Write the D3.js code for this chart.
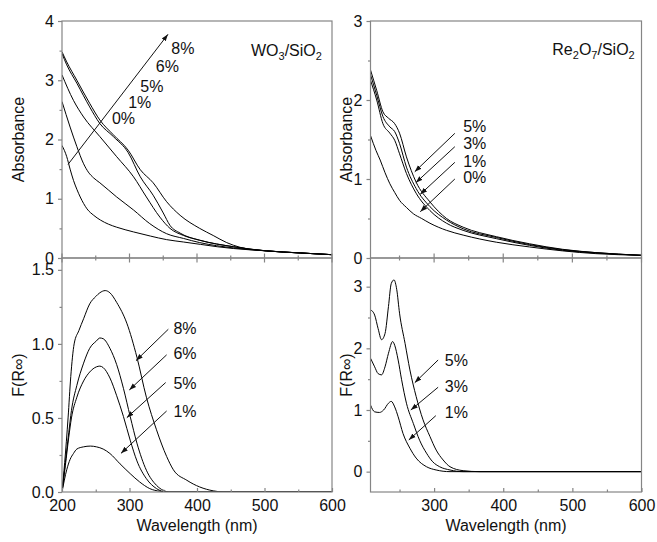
<!DOCTYPE html>
<html>
<head>
<meta charset="utf-8">
<script src="https://cdn.jsdelivr.net/npm/d3@7"></script>
<style>
  body { margin: 0; background: #fff; }
  text { font-family: "Liberation Sans", Arial, sans-serif; }
</style>
</head>
<body>
<div id="chart"></div>
<script>
// ---- tick values ----
const leftXTicks = [200, 300, 400, 500, 600];
const rightXTicks = [300, 400, 500, 600];
const xMinorTicks = [250, 350, 450, 550];
const woAbsTicks = [0, 1, 2, 3, 4];
const woAbsMinor = [0.5, 1.5, 2.5, 3.5];
const reAbsTicks = [0, 1, 2, 3];
const reAbsMinor = [0.5, 1.5, 2.5];
const woFrTicks = [0.0, 0.5, 1.0, 1.5];
const woFrMinor = [0.25, 0.75, 1.25];
const reFrTicks = [0, 1, 2, 3];
const reFrMinor = [0.5, 1.5, 2.5];

// ---- WO3/SiO2 absorbance [nm, A] ----
const woAbsLoadings = ["0%", "1%", "5%", "6%", "8%"];
const woAbs0 = [[200,1.90],[207,1.71],[212,1.50],[217,1.31],[222,1.16],[227,1.03],[232,0.92],[237,0.83],[247,0.72],[257,0.64],[269,0.57],[281,0.52],[306,0.44],[331,0.37],[355,0.31],[380,0.27],[405,0.23],[430,0.19],[454,0.16],[503,0.12],[553,0.085],[600,0.056]];
const woAbs1 = [[200,2.64],[212,2.21],[222,1.88],[232,1.59],[239,1.45],[247,1.35],[256,1.27],[281,1.03],[306,0.81],[330,0.58],[355,0.41],[380,0.33],[404,0.26],[454,0.17],[503,0.12],[553,0.085],[600,0.056]];
const woAbs5 = [[200,3.09],[217,2.66],[232,2.38],[256,2.05],[281,1.71],[306,1.37],[325,1.03],[345,0.69],[360,0.50],[380,0.38],[404,0.30],[454,0.19],[503,0.12],[553,0.085],[600,0.056]];
const woAbs6 = [[200,3.45],[207,3.26],[222,2.95],[241,2.55],[256,2.27],[276,2.05],[298,1.78],[316,1.37],[335,1.06],[350,0.76],[360,0.55],[375,0.42],[404,0.30],[454,0.19],[503,0.12],[553,0.085],[600,0.056]];
const woAbs8 = [[200,3.48],[207,3.31],[222,3.00],[241,2.61],[256,2.33],[276,2.08],[298,1.82],[316,1.49],[335,1.27],[355,0.95],[375,0.72],[404,0.50],[424,0.38],[444,0.26],[464,0.18],[503,0.12],[553,0.085],[600,0.056]];

// ---- Re2O7/SiO2 absorbance ----
const reAbsLoadings = ["0%", "1%", "3%", "5%"];
const reAbs0 = [[208,1.55],[216,1.36],[222,1.24],[229,1.08],[236,0.94],[243,0.83],[250,0.73],[260,0.64],[270,0.56],[282,0.50],[294,0.44],[318,0.35],[342,0.29],[390,0.20],[438,0.14],[486,0.09],[534,0.055],[600,0.034]];
const reAbs1 = [[208,2.25],[217,2.00],[226,1.70],[236,1.58],[243,1.49],[250,1.32],[260,1.07],[274,0.82],[294,0.60],[318,0.44],[342,0.35],[390,0.245],[438,0.16],[486,0.097],[534,0.063],[600,0.034]];
const reAbs3 = [[208,2.32],[217,2.06],[226,1.79],[236,1.66],[243,1.60],[250,1.45],[260,1.15],[274,0.88],[294,0.65],[318,0.48],[342,0.37],[390,0.26],[438,0.17],[486,0.105],[534,0.068],[600,0.034]];
const reAbs5 = [[208,2.38],[217,2.12],[226,1.85],[234,1.77],[243,1.70],[250,1.58],[260,1.28],[274,0.96],[294,0.71],[318,0.50],[342,0.39],[390,0.27],[438,0.18],[486,0.11],[534,0.068],[600,0.034]];

// ---- WO3/SiO2 F(R) ----
const woFrLoadings = ["1%", "5%", "6%", "8%"];
const woFr1 = [[200,0],[207,0.15],[212,0.22],[217,0.26],[222,0.29],[232,0.305],[242,0.31],[251,0.305],[261,0.29],[271,0.26],[286,0.19],[301,0.124],[315,0.068],[330,0.023],[345,0.005],[360,0],[600,0]];
const woFr5 = [[200,0],[205,0.18],[210,0.37],[214,0.50],[222,0.64],[232,0.75],[241,0.81],[251,0.845],[256,0.85],[261,0.84],[271,0.77],[281,0.65],[291,0.51],[301,0.35],[311,0.21],[325,0.09],[340,0.023],[355,0],[600,0]];
const woFr6 = [[200,0],[205,0.20],[210,0.40],[214,0.55],[222,0.72],[232,0.87],[241,0.97],[251,1.02],[256,1.04],[261,1.035],[271,0.97],[281,0.86],[291,0.70],[301,0.51],[311,0.33],[325,0.147],[340,0.045],[350,0.011],[360,0],[600,0]];
const woFr8 = [[200,0],[204,0.20],[209,0.50],[213,0.78],[218,1.00],[225,1.09],[232,1.17],[241,1.27],[250,1.32],[256,1.345],[264,1.36],[271,1.345],[281,1.28],[296,1.14],[311,0.91],[325,0.64],[340,0.42],[355,0.24],[365,0.15],[385,0.079],[404,0.034],[424,0.008],[440,0],[600,0]];

// ---- Re2O7/SiO2 F(R) ----
const reFrLoadings = ["1%", "3%", "5%"];
const reFr1 = [[208,1.08],[214,0.97],[221,0.96],[227,1.00],[234,1.11],[238,1.14],[243,1.05],[248,0.89],[255,0.62],[265,0.38],[274,0.22],[289,0.08],[303,0.027],[323,0],[600,0]];
const reFr3 = [[208,1.84],[214,1.70],[219,1.59],[224,1.57],[229,1.70],[234,1.92],[240,2.11],[243,2.05],[248,1.81],[253,1.49],[260,1.11],[270,0.78],[279,0.51],[289,0.30],[298,0.16],[308,0.08],[323,0.027],[342,0],[600,0]];
const reFr5 = [[208,2.62],[211,2.60],[214,2.54],[219,2.32],[224,2.14],[229,2.24],[234,2.68],[238,3.05],[242,3.11],[246,2.95],[250,2.57],[258,2.08],[265,1.65],[274,1.22],[284,0.84],[294,0.57],[303,0.35],[313,0.19],[323,0.08],[342,0.016],[366,0],[600,0]];

// ---- annotation anchors, in data units ----
const woAbsLabelAt = [[274,2.35],[298,2.62],[316,2.90],[339,3.24],[362,3.53]];
const woAbsArrow = [[[209,1.58],[357,3.775]]];
const reAbsLabelAt = [[342,1.02],[342,1.22],[342,1.45],[342,1.66]];
const reAbsArrows = [[[330,1.00],[280,0.586]],[[330,1.211],[280,0.806]],[[330,1.409],[273.5,0.953]],[[330,1.578],[272,1.092]]];
const woFrLabelAt = [[365,0.543],[365,0.734],[365,0.937],[365,1.106]];
const woFrArrows = [[[355,0.547],[287.4,0.261]],[[353.6,0.739],[296,0.502]],[[355,0.926],[299.7,0.689]],[[357.5,1.099],[309.6,0.887]]];
const reFrLabelAt = [[315.5,0.957],[315.5,1.378],[315.5,1.811]];
const reFrArrows = [[[302.5,0.908],[263.4,0.514]],[[305.8,1.369],[266.3,1.0]],[[305.8,1.811],[272,1.443]]];

// ---- layout ----
const W = 657, H = 542;
const AXIS = "#858585";
const colLeft = {x0: 62, x1: 332, titleOff: 44};
const colRight = {x0: 370.5, x1: 641.5, titleOff: 24};
const rowTop = {y0: 21, y1: 258};
const rowBot = {y0: 258, y1: 492};

const svg = d3.select("#chart").append("svg").attr("width", W).attr("height", H);
const defs = svg.append("defs");
defs.append("marker")
    .attr("id", "head")
    .attr("viewBox", "0 0 10 10")
    .attr("refX", 10).attr("refY", 5)
    .attr("markerWidth", 7).attr("markerHeight", 7)
    .attr("markerUnits", "userSpaceOnUse")
    .attr("orient", "auto")
  .append("path")
    .attr("d", "M0,1.5L10,5L0,8.5Z")
    .attr("fill", "#111");

const panels = [
    {col: colLeft, row: rowTop, xDomain: [200, 600], yDomain: [0, 4],
     xTicks: leftXTicks, yTicks: woAbsTicks, yMinor: woAbsMinor, yFmt: d3.format("d"),
     series: [woAbs0, woAbs1, woAbs5, woAbs6, woAbs8], labels: woAbsLoadings, labelAt: woAbsLabelAt,
     arrows: woAbsArrow, yTitle: "Absorbance", title: ["WO", "3", "/SiO", "2"], titleAt: [480, 3.51]},
    {col: colRight, row: rowTop, xDomain: [208, 600], yDomain: [0, 3],
     xTicks: rightXTicks, yTicks: reAbsTicks, yMinor: reAbsMinor, yFmt: d3.format("d"),
     series: [reAbs0, reAbs1, reAbs3, reAbs5], labels: reAbsLoadings, labelAt: reAbsLabelAt,
     arrows: reAbsArrows, yTitle: "Absorbance", title: ["Re", "2", "O", "7", "/SiO", "2"], titleAt: [471, 2.64]},
    {col: colLeft, row: rowBot, xDomain: [200, 600], yDomain: [0, 1.58],
     xTicks: leftXTicks, yTicks: woFrTicks, yMinor: woFrMinor, yFmt: d3.format(".1f"),
     series: [woFr1, woFr5, woFr6, woFr8], labels: woFrLoadings, labelAt: woFrLabelAt,
     arrows: woFrArrows, yTitle: "F(R\u221E)", xTitle: "Wavelength (nm)"},
    {col: colRight, row: rowBot, xDomain: [208, 600], yDomain: [-0.33, 3.465],
     xTicks: rightXTicks, yTicks: reFrTicks, yMinor: reFrMinor, yFmt: d3.format("d"),
     series: [reFr1, reFr3, reFr5], labels: reFrLoadings, labelAt: reFrLabelAt,
     arrows: reFrArrows, yTitle: "F(R\u221E)", xTitle: "Wavelength (nm)"}
];

function styleAxis(g) {
    g.attr("font-size", 16).attr("font-family", "'Liberation Sans', Arial, sans-serif");
    g.select(".domain").remove();
    g.selectAll("line").attr("stroke", AXIS).attr("stroke-width", 1.2);
    g.selectAll("text").attr("fill", "#111");
}

panels.forEach(function(p, i) {
    const {x0, x1} = p.col;
    const {y0, y1} = p.row;
    const x = d3.scaleLinear().domain(p.xDomain).range([x0, x1]);
    const y = d3.scaleLinear().domain(p.yDomain).range([y1, y0]);
    const g = svg.append("g");

    defs.append("clipPath").attr("id", "clip" + i)
      .append("rect").attr("x", x0).attr("y", y0).attr("width", x1 - x0).attr("height", y1 - y0);

    // curves
    const line = d3.line().x(d => x(d[0])).y(d => y(d[1])).curve(d3.curveMonotoneX);
    g.append("g").attr("clip-path", "url(#clip" + i + ")")
      .selectAll("path").data(p.series).join("path")
        .attr("d", line)
        .attr("fill", "none")
        .attr("stroke", "#000")
        .attr("stroke-width", 1);

    // frame
    g.append("rect")
        .attr("x", x0).attr("y", y0).attr("width", x1 - x0).attr("height", y1 - y0)
        .attr("fill", "none").attr("stroke", AXIS).attr("stroke-width", 1.2);

    // y axis: major + minor, outward
    g.append("g").attr("transform", "translate(" + x0 + ",0)")
        .call(d3.axisLeft(y).tickValues(p.yTicks).tickFormat(p.yFmt).tickSizeInner(4).tickSizeOuter(0).tickPadding(4))
        .call(styleAxis);
    g.append("g").attr("transform", "translate(" + x0 + ",0)")
        .call(d3.axisLeft(y).tickValues(p.yMinor).tickFormat("").tickSizeInner(2.5).tickSizeOuter(0))
        .call(styleAxis);

    if (p.xTitle) {
        // bottom axis, ticks pointing in
        g.append("g").attr("transform", "translate(0," + y1 + ")")
            .call(d3.axisBottom(x).tickValues(p.xTicks).tickSizeInner(-4).tickSizeOuter(0).tickPadding(8))
            .call(styleAxis);
        g.append("g").attr("transform", "translate(0," + y1 + ")")
            .call(d3.axisBottom(x).tickValues(xMinorTicks).tickFormat("").tickSizeInner(-2.5).tickSizeOuter(0))
            .call(styleAxis);
        g.append("text")
            .attr("x", (x0 + x1) / 2).attr("y", 525).attr("dy", "0.35em")
            .attr("text-anchor", "middle").attr("font-size", 16).attr("fill", "#111")
            .text(p.xTitle);
    } else {
        // zero line of the top panels, ticks crossing it
        const zy = y(0);
        [[p.xTicks, 4.5], [xMinorTicks, 2.5]].forEach(function(t) {
            g.append("g").selectAll("line").data(t[0]).join("line")
                .attr("x1", d => x(d)).attr("x2", d => x(d))
                .attr("y1", zy - t[1]).attr("y2", zy + t[1])
                .attr("stroke", AXIS).attr("stroke-width", 1.2);
        });
    }

    // y title
    g.append("text")
        .attr("transform", "translate(" + (x0 - p.col.titleOff) + "," + ((y0 + y1) / 2) + ") rotate(-90)")
        .attr("dy", "0.35em")
        .attr("text-anchor", "middle").attr("font-size", 16).attr("fill", "#111")
        .text(p.yTitle);

    // loading labels
    g.append("g").selectAll("text").data(p.labels).join("text")
        .attr("x", (d, k) => x(p.labelAt[k][0]))
        .attr("y", (d, k) => y(p.labelAt[k][1]))
        .attr("dy", "0.35em").attr("font-size", 16).attr("fill", "#111")
        .text(d => d);

    // arrows
    g.append("g").selectAll("line").data(p.arrows).join("line")
        .attr("x1", d => x(d[0][0])).attr("y1", d => y(d[0][1]))
        .attr("x2", d => x(d[1][0])).attr("y2", d => y(d[1][1]))
        .attr("stroke", "#111").attr("stroke-width", 1)
        .attr("marker-end", "url(#head)");

    // sample title with subscripts
    if (p.title) {
        const t = g.append("text")
            .attr("x", x(p.titleAt[0])).attr("y", y(p.titleAt[1]))
            .attr("dy", "0.35em").attr("font-size", 16).attr("fill", "#111");
        p.title.forEach(function(s, k) {
            const sub = k % 2 === 1;
            t.append("tspan")
                .attr("font-size", sub ? 11 : 16)
                .attr("dy", k === 0 ? null : (sub ? 4 : -4))
                .text(s);
        });
    }
});
</script>
</body>
</html>
